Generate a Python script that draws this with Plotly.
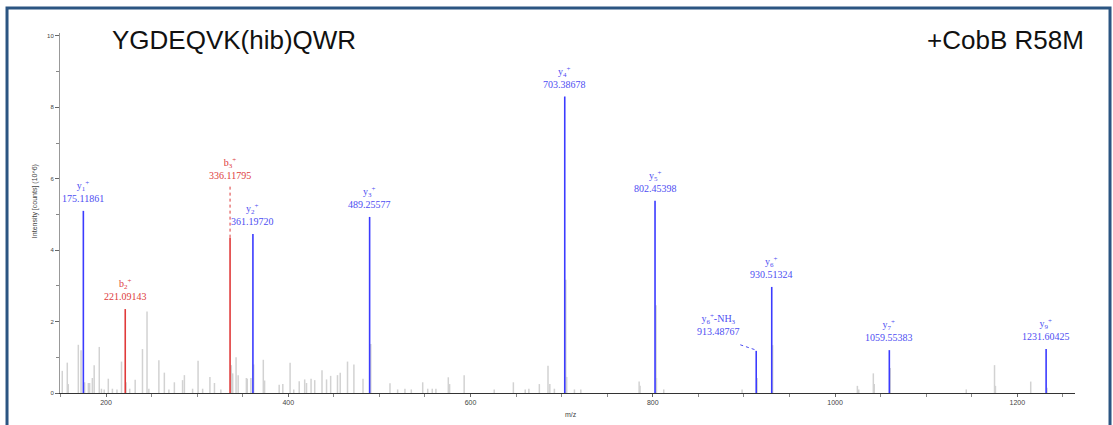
import plotly.graph_objects as go

# ---------------- data ----------------
noise_mz = [152, 157.5, 158.6, 169.6, 172.6, 176.5, 180.6, 182, 185, 187, 192.6, 195, 198,
            202.5, 207, 212, 217, 222, 226, 232, 240, 245, 247, 258, 264, 269, 275, 284, 286,
            295, 301, 306, 314, 319, 326, 337.5, 339, 342.7, 345, 354, 355, 359, 362, 372.6,
            374, 390, 394, 402, 406, 412, 418, 420, 425, 429, 437, 442, 446.5, 454, 457, 465,
            472, 482, 490.5, 511.6, 520, 528, 535, 547.5, 553, 558, 562, 575.6, 577, 593, 626,
            647, 660, 664, 675.5, 685, 687, 692, 704.5, 705.5, 714, 721, 785, 786, 803.5, 804,
            812, 898, 914.5, 931.5, 1024.5, 1026, 1042, 1043, 1060.5, 1144, 1175, 1176,
            1214.7, 1232.6]
noise_int = [0.62, 0.85, 0.25, 1.35, 1.2, 0.3, 0.28, 0.28, 0.42, 0.78, 1.29, 0.12, 0.1,
             0.4, 0.12, 0.1, 0.88, 0.3, 0.12, 0.37, 1.23, 2.28, 0.12, 0.92, 0.57, 0.1, 0.3, 0.36,
             0.5, 0.12, 0.9, 0.12, 0.45, 0.28, 0.1, 0.78, 0.55, 1.0, 0.5, 0.42, 0.4, 0.42, 0.8,
             0.93, 0.35, 0.23, 0.25, 0.85, 0.1, 0.33, 0.38, 0.28, 0.4, 0.36, 0.64, 0.38, 0.48,
             0.5, 0.57, 0.88, 0.8, 0.4, 1.37, 0.27, 0.1, 0.12, 0.1, 0.3, 0.12, 0.12, 0.12, 0.44,
             0.25, 0.5, 0.1, 0.3, 0.1, 0.12, 0.25, 0.76, 0.25, 0.12, 3.17, 0.45, 0.1, 0.1, 0.32,
             0.2, 2.46, 0.42, 0.1, 0.1, 0.42, 1.34, 0.2, 0.1, 0.55, 0.25, 0.7, 0.1, 0.78, 0.2,
             0.32, 0.15]

ion_labels = ["y<sub>1</sub><sup>+</sup>", "b<sub>2</sub><sup>+</sup>", "b<sub>3</sub><sup>+</sup>",
              "y<sub>2</sub><sup>+</sup>", "y<sub>3</sub><sup>+</sup>", "y<sub>4</sub><sup>+</sup>",
              "y<sub>5</sub><sup>+</sup>", "y<sub>6</sub><sup>+</sup>-NH<sub>3</sub>",
              "y<sub>6</sub><sup>+</sup>", "y<sub>7</sub><sup>+</sup>", "y<sub>9</sub><sup>+</sup>"]
ion_mz = [175.11861, 221.09143, 336.11795, 361.19720, 489.25577, 703.38678, 802.45398,
          913.48767, 930.51324, 1059.55383, 1231.60425]
ion_int = [5.1, 2.35, 4.35, 4.45, 4.93, 8.3, 5.38, 1.18, 2.97, 1.2, 1.23]
ion_type = ["y", "b", "b", "y", "y", "y", "y", "y", "y", "y", "y"]

x_ticks = [200, 400, 600, 800, 1000, 1200]
y_ticks = [0, 2, 4, 6, 8, 10]

BLUE_LINE = "#3b3bff"
BLUE_TEXT = "#4d4df2"
RED_LINE = "#e03a3a"
RED_TEXT = "#dd3b3b"
GREY = "#d2d2d2"


def sticks(mzs, ints):
    xs, ys = [], []
    for m, h in zip(mzs, ints):
        xs += [m, m, None]
        ys += [0, h, None]
    return xs, ys


fig = go.Figure()
nx, ny = sticks(noise_mz, noise_int)
fig.add_trace(go.Scatter(x=nx, y=ny, mode="lines", line=dict(color=GREY, width=1.5),
                         hoverinfo="skip", showlegend=False))
for t, col in (("y", BLUE_LINE), ("b", RED_LINE)):
    sel = [i for i in range(len(ion_mz)) if ion_type[i] == t]
    sx, sy = sticks([ion_mz[i] for i in sel], [ion_int[i] for i in sel])
    fig.add_trace(go.Scatter(x=sx, y=sy, mode="lines", line=dict(color=col, width=1.6),
                             hoverinfo="skip", showlegend=False))

# label placement overrides (layout, not data)
label_offsets = {2: dict(dy=1.4), 7: dict(dx=-41.5, dy=0.2)}

for i, (lab, m, h) in enumerate(zip(ion_labels, ion_mz, ion_int)):
    off = label_offsets.get(i, {})
    lx = m + off.get("dx", 0)
    ly = h + off.get("dy", 0)
    col = BLUE_TEXT if ion_type[i] == "y" else RED_TEXT
    fig.add_annotation(x=lx, y=ly, xref="x", yref="y", text=f"{lab}<br>{m:.5f}",
                       showarrow=False, yanchor="bottom", xanchor="center", yshift=5,
                       font=dict(family="Liberation Serif, Times New Roman, serif", size=10, color=col))
    if "dy" in off and "dx" not in off:
        fig.add_shape(type="line", x0=m, x1=m, y0=h, y1=ly + 0.05, xref="x", yref="y",
                      line=dict(color=col, width=1, dash="dot"))
    if "dx" in off:
        fig.add_shape(type="line", x0=lx + 24, x1=m, y0=ly - 0.03, y1=h + 0.02, xref="x", yref="y",
                      line=dict(color=col, width=1, dash="dot"))

# titles
fig.add_annotation(text="YGDEQVK(hib)QWR", xref="paper", yref="paper", x=0.049, y=0.98,
                   xanchor="left", yanchor="middle", showarrow=False,
                   font=dict(family="Liberation Sans, Arial", size=26, color="#111"))
fig.add_annotation(text="+CobB R58M", xref="paper", yref="paper", x=1.0108, y=0.98,
                   xanchor="right", yanchor="middle", showarrow=False,
                   font=dict(family="Liberation Sans, Arial", size=26, color="#111"))
fig.add_annotation(text="Intensity [counts] (10^6)", xref="paper", yref="paper", x=-0.0246, y=0.533,
                   textangle=-90, xanchor="center", yanchor="middle", showarrow=False,
                   font=dict(family="Liberation Sans, Arial", size=7, color="#444"))
fig.add_annotation(text="m/z", xref="paper", yref="paper", x=0.503, y=-0.061,
                   xanchor="center", yanchor="middle", showarrow=False,
                   font=dict(family="Liberation Sans, Arial", size=7, color="#444"))

# outer frame
fig.add_shape(type="rect", xref="paper", yref="paper", x0=-0.0522, x1=1.0345, y0=-0.12, y1=1.0694,
              line=dict(color="#2b5582", width=3), layer="above")

fig.update_layout(
    width=1113, height=425,
    margin=dict(l=60, r=38, t=33, b=32),
    paper_bgcolor="white", plot_bgcolor="white",
    xaxis=dict(range=[149.5, 1263.3], tickvals=x_ticks, ticks="outside", ticklen=3,
               tickcolor="#666", showgrid=False, zeroline=False, showline=True,
               linecolor="#333", linewidth=1,
               tickfont=dict(family="Liberation Sans, Arial", size=7, color="#444"),
               minor=dict(dtick=50, tick0=0, ticks="outside", ticklen=3, tickcolor="#888")),
    yaxis=dict(range=[0, 10.08], tickvals=y_ticks, ticks="outside", ticklen=4,
               tickcolor="#666", showgrid=False, zeroline=False, showline=True,
               linecolor="#999", linewidth=1,
               tickfont=dict(family="Liberation Sans, Arial", size=6, color="#444"),
               minor=dict(dtick=1, tick0=0, ticks="outside", ticklen=3, tickcolor="#888")),
)

fig.write_html("out.html", config={"displayModeBar": False},
               post_script="document.body.style.margin='0';document.body.style.overflow='hidden';")
